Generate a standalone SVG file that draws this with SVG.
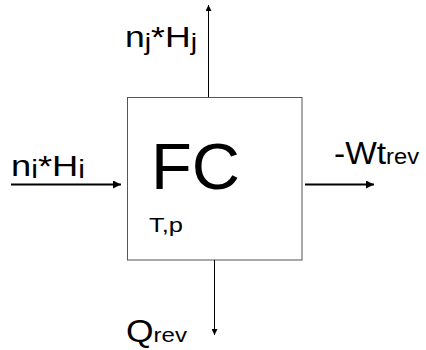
<svg xmlns="http://www.w3.org/2000/svg" width="426" height="350" viewBox="0 0 426 350">
<style>
text{font-family:"Liberation Sans",Arial,sans-serif;fill:#000}
.ln{stroke:#000;fill:none}
</style>
<defs>
<marker id="ah" viewBox="0 0 10 10" refX="10" refY="5" markerWidth="6" markerHeight="6" markerUnits="userSpaceOnUse" orient="auto"><path d="M0,0L10,5L0,10z" fill="#000"/></marker>
<marker id="ah2" viewBox="0 0 10 10" refX="10" refY="5" markerWidth="4" markerHeight="4" orient="auto"><path d="M0,0L10,5L0,10z" fill="#000"/></marker>
</defs>
<g id="fc">
<rect x="127.5" y="97.5" width="174.5" height="162.5" fill="#fff" stroke="#555" stroke-width="1"/>
<text x="151" y="189" font-size="65" textLength="89" lengthAdjust="spacingAndGlyphs">FC</text>
<text x="149" y="232" font-size="21" textLength="34" lengthAdjust="spacingAndGlyphs">T,p</text>
</g>
<g id="connectors">
<line class="ln" x1="208.5" y1="97" x2="208.5" y2="5" stroke-width="1" stroke="#555" marker-end="url(#ah)"/>
<line class="ln" x1="11" y1="184.5" x2="121" y2="184.5" stroke-width="2" marker-end="url(#ah2)"/>
<line class="ln" x1="305" y1="184.5" x2="374" y2="184.5" stroke-width="2" marker-end="url(#ah2)"/>
<line class="ln" x1="214.5" y1="260" x2="214.5" y2="335" stroke-width="1" marker-end="url(#ah)"/>
</g>
<g id="labels">
<text x="125" y="47" font-size="30" textLength="72" lengthAdjust="spacingAndGlyphs">n<tspan font-size="24" dy="3">j</tspan><tspan dy="-3">*H</tspan><tspan font-size="24" dy="3">j</tspan></text>
<text x="11" y="176" font-size="30" textLength="74" lengthAdjust="spacingAndGlyphs">n<tspan font-size="25" dy="2">i</tspan><tspan dy="-2">*H</tspan><tspan font-size="25" dy="2">i</tspan></text>
<text x="334" y="164" font-size="31" textLength="85" lengthAdjust="spacingAndGlyphs">-Wt<tspan font-size="22">rev</tspan></text>
<text x="126" y="342" font-size="31" textLength="61" lengthAdjust="spacingAndGlyphs">Q<tspan font-size="21">rev</tspan></text>
</g>
</svg>
